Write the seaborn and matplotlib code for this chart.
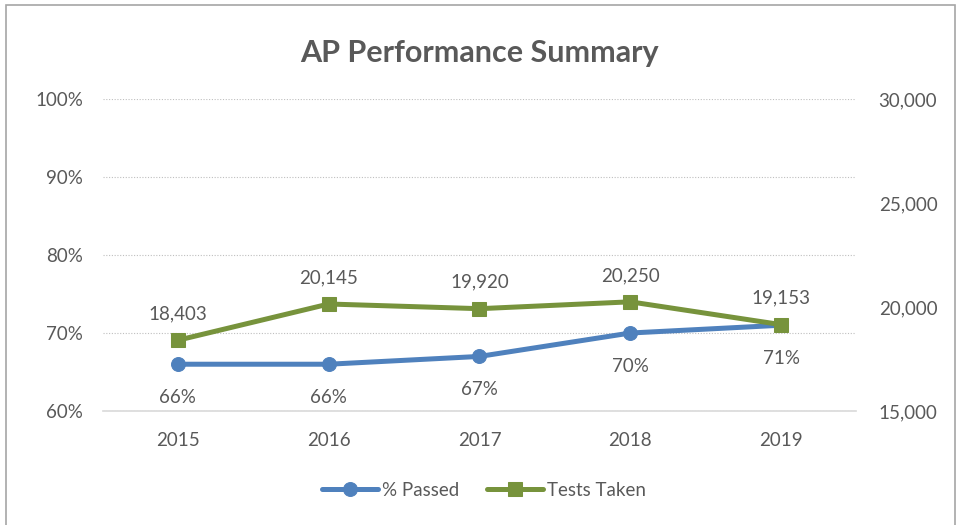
import pandas as pd
import matplotlib.pyplot as plt
import seaborn as sns
from matplotlib.patches import Rectangle
from matplotlib.ticker import FuncFormatter

# chart data
years = ["2015", "2016", "2017", "2018", "2019"]
pct_passed = [66, 66, 67, 70, 71]
tests_taken = [18403, 20145, 19920, 20250, 19153]

df = pd.DataFrame({"Year": years, "Passed": pct_passed, "Tests": tests_taken})

blue = "#4F81BD"
green = "#77933C"
text_gray = "#595959"

sns.set_theme(style="white")
plt.rcParams["font.family"] = ["Lato", "DejaVu Sans"]

fig = plt.figure(figsize=(9.68, 5.25), dpi=100)
ax = fig.add_axes([0.1059, 0.2171, 0.7789, 0.5943])
ax2 = ax.twinx()

sns.lineplot(data=df, x="Year", y="Passed", ax=ax, color=blue, linewidth=3.6,
             marker="o", markersize=10, markeredgecolor=blue, label="% Passed",
             legend=False)
sns.lineplot(data=df, x="Year", y="Tests", ax=ax2, color=green, linewidth=3.6,
             marker="s", markersize=10, markeredgecolor=green, label="Tests Taken",
             legend=False)

ax.set_xlim(-0.5, len(years) - 0.5)
ax.set_ylim(60, 100)
ax.set_yticks([60, 70, 80, 90, 100])
ax.yaxis.set_major_formatter(FuncFormatter(lambda v, p: f"{v:.0f}%"))
ax2.set_ylim(15000, 30000)
ax2.set_yticks([15000, 20000, 25000, 30000])
ax2.yaxis.set_major_formatter(FuncFormatter(lambda v, p: f"{v:,.0f}"))

ax.grid(axis="y", color="#BFBFBF", linestyle=(0, (1, 1.5)), linewidth=0.8)
ax.set_axisbelow(True)
for a in (ax, ax2):
    for s in a.spines.values():
        s.set_visible(False)
    a.tick_params(length=0, labelsize=13.5, colors=text_gray)
    a.set_xlabel("")
    a.set_ylabel("")
ax.spines["bottom"].set_visible(True)
ax.spines["bottom"].set_color("#D9D9D9")
ax.spines["bottom"].set_linewidth(1.2)
ax.tick_params(axis="y", pad=14)
ax.tick_params(axis="x", pad=15)
ax2.tick_params(axis="y", pad=16)

# data labels
for i, v in enumerate(pct_passed):
    ax.annotate(f"{v}%", (i, v), xytext=(0, -24), textcoords="offset points",
                ha="center", va="center", fontsize=13.5, color=text_gray)
for i, v in enumerate(tests_taken):
    ax2.annotate(f"{v:,}", (i, v), xytext=(0, 19), textcoords="offset points",
                 ha="center", va="center", fontsize=13.5, color=text_gray)

ax.set_title("AP Performance Summary", fontsize=22, fontweight="bold",
             color=text_gray, pad=27)

h1, l1 = ax.get_legend_handles_labels()
h2, l2 = ax2.get_legend_handles_labels()
fig.legend(h1 + h2, l1 + l2, loc="center", bbox_to_anchor=(0.5, 0.066), ncol=2,
           frameon=False, fontsize=13.5, labelcolor=text_gray, handlelength=3,
           columnspacing=1.5, handletextpad=0.2)

# chart border (bottom edge is cropped in the reference)
fig.patches.append(Rectangle((0.0062, -0.05), 0.9804, 0.9905 + 0.05,
                             transform=fig.transFigure, fill=False,
                             edgecolor="#A6A6A6", linewidth=1.2))

fig.savefig("out.png", dpi=100)
